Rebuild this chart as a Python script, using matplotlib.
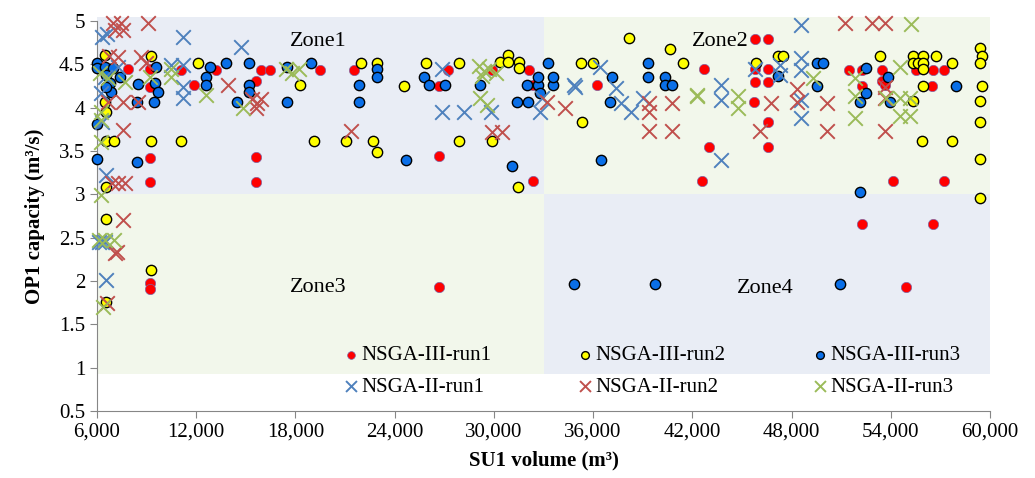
import matplotlib
matplotlib.use("Agg")
import matplotlib.pyplot as plt
from matplotlib.patches import Rectangle
from matplotlib.ticker import FuncFormatter, MultipleLocator

plt.rcParams['font.family'] = ['Liberation Serif', 'DejaVu Serif']

# NSGA-III runs (circles)
iii_run1_x = [7870, 9200, 9200, 9200, 9200, 9200, 9200, 11080, 11870, 13200, 15620, 15920,
              16460, 15620, 15620, 19500, 21540, 26680, 27230, 26680, 26680, 29900, 32120,
              32370, 32370, 36230, 42700, 45790, 46580, 45790, 46580, 45790, 46580, 45730,
              46580, 43010, 46580, 42580, 51470, 52260, 53470, 52260, 53470, 53650, 55520,
              56550, 57220, 56490, 54130, 57220, 52260, 56550, 54920]
iii_run1_y = [4.45, 4.45, 4.24, 3.42, 3.14, 1.98, 1.91, 4.44, 4.26, 4.44, 4.31, 4.44,
              4.44, 3.43, 3.14, 4.44, 4.44, 4.25, 4.44, 3.44, 1.93, 4.43, 4.44,
              4.26, 3.15, 4.26, 4.45, 4.79, 4.79, 4.45, 4.45, 4.30, 4.30, 4.06,
              3.83, 3.55, 3.55, 3.15, 4.44, 4.44, 4.44, 4.25, 4.31, 4.26, 4.44,
              4.44, 4.44, 4.25, 3.15, 3.15, 2.66, 2.66, 1.93]

iii_run2_x = [6460, 9270, 6480, 6540, 6540, 7030, 9270, 11080, 6530, 6530, 9270, 6530,
              12100, 19120, 18300, 21960, 22930, 21060, 22690, 22930, 24560, 25900, 27890,
              27890, 29890, 30370, 30850, 30850, 31520, 31520, 31460, 35270, 35990, 35330,
              38170, 40650, 41430, 45850, 47180, 47480, 53350, 55340, 55950, 56730, 55340,
              55650, 55950, 55950, 57700, 59400, 59500, 59400, 59500, 59400, 59400, 59400,
              59400, 55950, 55340, 55890, 57700]
iii_run2_y = [4.61, 4.60, 4.07, 3.95, 3.62, 3.62, 3.62, 3.62, 3.08, 2.72, 2.13, 1.76,
              4.51, 3.62, 4.26, 4.51, 4.51, 3.62, 3.62, 3.49, 4.25, 4.51, 4.51,
              3.62, 3.62, 4.53, 4.61, 4.53, 4.53, 4.46, 3.09, 4.51, 4.51, 3.83,
              4.80, 4.68, 4.51, 4.51, 4.60, 4.60, 4.60, 4.60, 4.60, 4.60, 4.51,
              4.51, 4.51, 4.45, 4.51, 4.69, 4.60, 4.51, 4.25, 4.08, 3.83, 3.41,
              2.96, 4.25, 4.08, 3.62, 3.62]

iii_run3_x = [6000, 6000, 6480, 6970, 6540, 6780, 6840, 6540, 7390, 9570, 9500, 9690,
              8480, 9450, 8420, 6000, 6000, 8420, 13800, 15190, 18940, 12830, 17490,
              12590, 12590, 15190, 15190, 14470, 17490, 22930, 22930, 25780, 21840, 26080,
              27040, 29160, 32000, 32670, 33580, 32670, 33580, 33270, 32790, 21840, 31400,
              32060, 24690, 31100, 39320, 37140, 39320, 40350, 40350, 40770, 37020, 36480,
              47180, 49540, 49900, 52500, 49540, 53830, 52500, 52140, 53950, 57950, 52140,
              34840, 39740, 50930]
iii_run3_y = [4.51, 4.46, 4.47, 4.46, 4.38, 4.28, 4.18, 4.24, 4.35, 4.47, 4.28, 4.18,
              4.27, 4.07, 4.07, 3.81, 3.41, 3.37, 4.51, 4.51, 4.51, 4.47, 4.47,
              4.35, 4.26, 4.26, 4.18, 4.07, 4.07, 4.45, 4.35, 4.35, 4.26, 4.26,
              4.26, 4.26, 4.26, 4.26, 4.26, 4.35, 4.35, 4.51, 4.17, 4.07, 4.07,
              4.07, 3.40, 3.33, 4.51, 4.35, 4.35, 4.35, 4.26, 4.26, 4.07, 3.40,
              4.36, 4.51, 4.51, 4.46, 4.25, 4.35, 4.17, 4.06, 4.06, 4.25, 3.03,
              1.96, 1.96, 1.96]

# NSGA-II runs (crosses)
ii_run1_x = [6300, 6600, 11200, 14700, 11200, 10500, 7270, 11200, 11200, 6480, 6300, 6540,
             6540, 6100, 6300, 6500, 6240, 26860, 26860, 28190, 29820, 32790, 32900, 36420,
             34840, 34900, 37380, 37680, 38290, 39020, 43730, 43730, 43730, 45790, 47300,
             47300, 48570, 48570, 48570, 48570, 48570]
ii_run1_y = [4.82, 4.85, 4.82, 4.70, 4.49, 4.49, 4.47, 4.24, 4.11, 4.35, 3.84, 3.22,
             2.01, 2.45, 2.45, 2.45, 4.17, 4.45, 3.95, 3.95, 3.95, 3.95, 4.11, 4.47,
             4.26, 4.24, 4.23, 4.05, 3.95, 4.11, 4.26, 4.09, 3.40, 4.45, 4.49,
             4.38, 4.95, 4.57, 4.43, 4.09, 3.88]

ii_run2_x = [6970, 7450, 7090, 7570, 9080, 7270, 8660, 8960, 6700, 6660, 7570, 8480,
             7570, 6900, 7300, 7700, 7570, 7090, 7200, 6600, 13900, 15400, 15700, 15900,
             15600, 21360, 29890, 30490, 33210, 34300, 39380, 39380, 39380, 40770, 40770,
             46090, 46760, 48330, 48330, 50140, 50140, 53650, 53650, 53650, 51230, 52860,
             53650]
ii_run2_y = [4.98, 4.98, 4.90, 4.90, 4.98, 4.59, 4.59, 4.51, 4.60, 4.07, 4.07, 4.07,
             3.74, 3.13, 3.13, 3.13, 2.70, 2.32, 2.33, 1.75, 4.26, 4.10, 4.05, 4.10,
             4.00, 3.73, 3.72, 3.72, 4.07, 4.00, 4.05, 3.95, 3.73, 4.05, 3.73,
             3.73, 4.05, 4.22, 4.07, 4.05, 3.73, 4.24, 4.11, 3.73, 4.98, 4.98,
             4.98]

ii_run3_x = [6200, 6660, 7690, 9200, 10480, 10500, 6240, 6240, 6240, 6240, 6100, 6500,
             7000, 6360, 12600, 14830, 17400, 17800, 18200, 29100, 29400, 29700, 29300,
             30100, 29160, 29580, 42280, 42300, 44760, 44760, 49300, 51830, 51830, 51830,
             54560, 53700, 54560, 55170, 54560, 55170, 55220]
ii_run3_y = [4.40, 4.34, 4.30, 4.35, 4.35, 4.45, 3.95, 3.86, 3.60, 2.99, 2.47, 2.47,
             2.47, 1.70, 4.15, 4.00, 4.45, 4.40, 4.45, 4.48, 4.42, 4.45, 4.36,
             4.40, 4.11, 4.03, 4.13, 4.15, 4.13, 4.00, 4.34, 4.34, 4.13, 3.88,
             4.47, 4.11, 4.11, 4.11, 3.90, 3.90, 4.97]

zone_names = ["Zone1", "Zone2", "Zone3", "Zone4"]

fig = plt.figure(figsize=(10.35, 4.78), dpi=100)
ax = fig.add_axes([97 / 1035, 1 - 411 / 478, 893 / 1035, 390 / 478])

blue_bg = '#E9EDF5'
green_bg = '#F2F7EB'
ax.add_patch(Rectangle((6000, 3.0), 27000, 2.05, facecolor=blue_bg, edgecolor='none', clip_on=False, zorder=0))
ax.add_patch(Rectangle((33000, 3.0), 27000, 2.05, facecolor=green_bg, edgecolor='none', clip_on=False, zorder=0))
ax.add_patch(Rectangle((6000, 0.93), 27000, 2.07, facecolor=green_bg, edgecolor='none', clip_on=False, zorder=0))
ax.add_patch(Rectangle((33000, 0.93), 27000, 2.07, facecolor=blue_bg, edgecolor='none', clip_on=False, zorder=0))

zfs = 16
ax.text(19400, 4.76, zone_names[0], fontsize=zfs, ha='center', va='center')
ax.text(43700, 4.76, zone_names[1], fontsize=zfs, ha='center', va='center')
ax.text(19400, 1.93, zone_names[2], fontsize=zfs, ha='center', va='center')
ax.text(46400, 1.91, zone_names[3], fontsize=zfs, ha='center', va='center')

cs = 55
h1 = ax.scatter(iii_run1_x, iii_run1_y, s=cs, c='#FF0000', edgecolors='#8064A2', linewidths=0.5, clip_on=False, zorder=3)
h2 = ax.scatter(iii_run2_x, iii_run2_y, s=cs, c='#FFFF00', edgecolors='black', linewidths=1.0, clip_on=False, zorder=3)
h3 = ax.scatter(iii_run3_x, iii_run3_y, s=cs, c='#0A6FE8', edgecolors='black', linewidths=1.0, clip_on=False, zorder=3)
xs = 110
h4 = ax.scatter(ii_run1_x, ii_run1_y, s=xs, marker='x', c='#4F81BD', linewidths=1.4, clip_on=False, zorder=4)
h5 = ax.scatter(ii_run2_x, ii_run2_y, s=xs, marker='x', c='#C0504D', linewidths=1.4, clip_on=False, zorder=4)
h6 = ax.scatter(ii_run3_x, ii_run3_y, s=xs, marker='x', c='#9BBB59', linewidths=1.4, clip_on=False, zorder=4)

ax.set_xlim(6000, 60000)
ax.set_ylim(0.5, 5)
ax.xaxis.set_major_locator(MultipleLocator(6000))
ax.yaxis.set_major_locator(MultipleLocator(0.5))
ax.xaxis.set_major_formatter(FuncFormatter(lambda v, p: f"{int(v):,}"))
ax.yaxis.set_major_formatter(FuncFormatter(lambda v, p: f"{v:g}"))
for s in ['top', 'right']:
    ax.spines[s].set_visible(False)
for s in ['left', 'bottom']:
    ax.spines[s].set_color('#868686')
ax.tick_params(axis='both', colors='#868686', labelcolor='black', labelsize=15, length=5, direction='out')

ax.set_xlabel("SU1 volume (m³)", fontsize=15, fontweight='bold', labelpad=6)
ax.set_ylabel("OP1 capacity (m³/s)", fontsize=15, fontweight='bold', labelpad=10)

handles = [h1, h4, h2, h5, h3, h6]
labels = ["NSGA-III-run1", "NSGA-II-run1", "NSGA-III-run2", "NSGA-II-run2", "NSGA-III-run3", "NSGA-II-run3"]
leg = ax.legend(handles, labels, ncol=3, loc='upper left', bbox_to_anchor=(0.252, 0.215),
                frameon=False, fontsize=15, handletextpad=0.0, columnspacing=4.0,
                handlelength=1.0, labelspacing=0.55, markerscale=0.75)

fig.savefig("out.png", dpi=100)
